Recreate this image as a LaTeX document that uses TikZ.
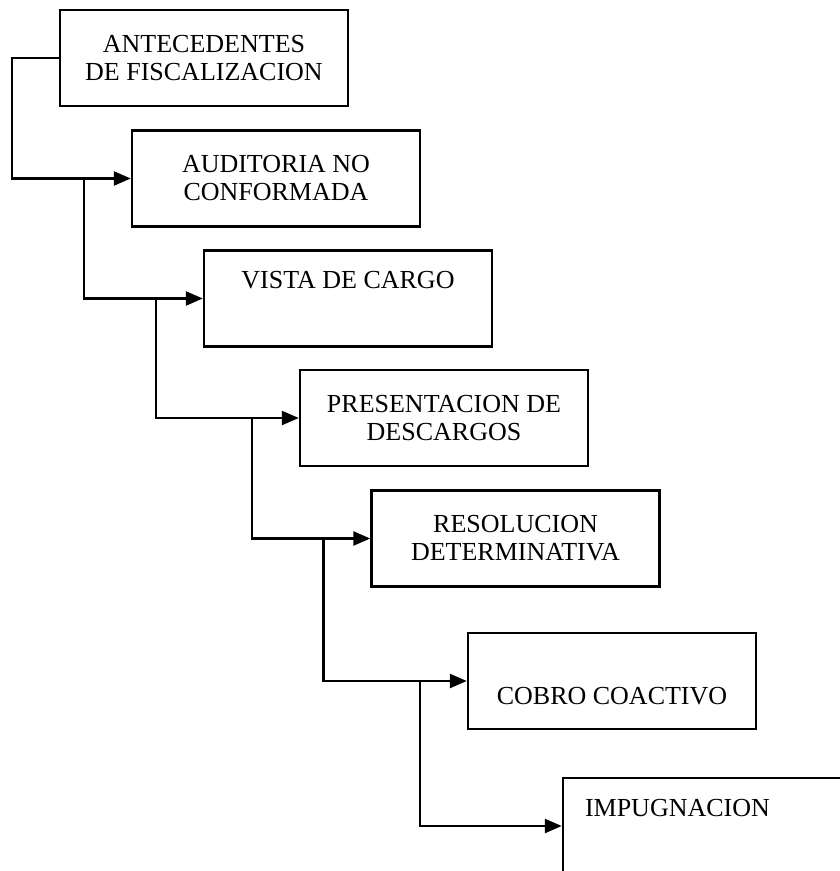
\documentclass[tikz,border=0pt]{standalone}
\usepackage{fontspec}
\setmainfont{Liberation Serif}
\usetikzlibrary{positioning,arrows.meta}

\begin{document}
\begin{tikzpicture}[
  x=0.5pt, y=-0.5pt,
  stepbox/.style={draw, line width=1.2pt, align=center, minimum width=144pt, minimum height=48pt, font=\fontsize{13}{14}\selectfont},
  arrow/.style={-{Triangle[length=8.5pt,width=7pt]}, line width=1.2pt}
]
\useasboundingbox (0,0) rectangle (839,871);

\node[stepbox] (antecedentes) at (204,58) {ANTECEDENTES\\DE FISCALIZACION};
\node[stepbox] (auditoria) at (276,178.5) {AUDITORIA NO\\CONFORMADA};
\node[stepbox] (vista) at (348,298.5) {VISTA DE CARGO\\\strut};
\node[stepbox] (presentacion) at (444,418) {PRESENTACION DE\\DESCARGOS};
\node[stepbox] (resolucion) at (515.5,538.5) {RESOLUCION\\DETERMINATIVA};
\node[stepbox] (cobro) at (612,681) {\strut\\COBRO COACTIVO};
\node[stepbox, align=left, text width=122pt] (impugnacion) at (707,826) {IMPUGNACION\\\strut};

\draw[arrow] (antecedentes.west) -- ++(-23.5pt,0) |- (auditoria.west);
\draw[arrow] ([xshift=-23.5pt]auditoria.west) |- (vista.west);
\draw[arrow] ([xshift=-23.5pt]vista.west) |- (presentacion.west);
\draw[arrow] ([xshift=-23.5pt]presentacion.west) |- (resolucion.west);
\draw[arrow] ([xshift=-23.5pt]resolucion.west) |- (cobro.west);
\draw[arrow] ([xshift=-23.5pt]cobro.west) |- (impugnacion.west);
\end{tikzpicture}
\end{document}
